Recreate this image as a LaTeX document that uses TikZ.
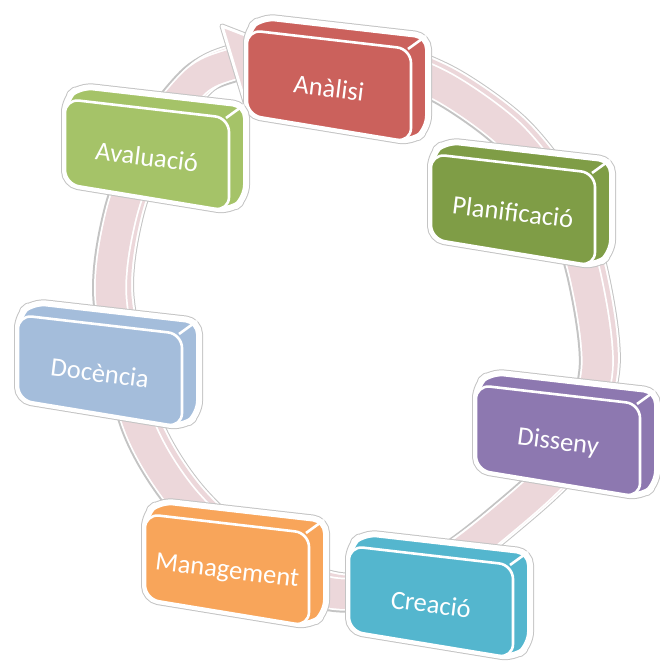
\documentclass[tikz,border=0pt]{standalone}
\usepackage{fontspec}
\setmainfont{Carlito}
\definecolor{cRed}{RGB}{203,97,92}
\definecolor{cOlive}{RGB}{127,157,70}
\definecolor{cLime}{RGB}{165,195,104}
\definecolor{cPurple}{RGB}{141,120,176}
\definecolor{cTeal}{RGB}{84,182,206}
\definecolor{cOrange}{RGB}{248,165,90}
\definecolor{cBlue}{RGB}{164,189,219}
\definecolor{cRing}{RGB}{236,215,218}
\definecolor{cGlow}{RGB}{196,196,196}
\tikzset{
  boxtext/.style={text=white, font=\fontsize{26.5}{30}\selectfont, rotate=-7, inner sep=0pt},
  glowline/.style={draw=cGlow, line width=8pt, rounded corners=13pt},
  whiteline/.style={draw=white, line width=6pt, rounded corners=13pt},
  edgeline/.style={draw=white, line width=2.6pt, rounded corners=14pt},
  ringA/.style={draw=cGlow, line width=37pt},
  ringB/.style={draw=white, line width=35pt},
  ringC/.style={draw=cRing, line width=31pt},
  ringD/.style={draw=white, line width=33pt},
  ringE/.style={draw=cRing, line width=29.5pt},
}
\newcommand\cubebox[5]{%
\begin{scope}[shift={(#2,#3)}]
  \path[glowline] (-82,-54) -- (-67,-67) -- (99,-48) -- (99,45) -- (83,58) -- (-82,31) -- cycle;
  \path[whiteline, fill=#4] (-82,-54) -- (-67,-67) -- (99,-48) -- (99,45) -- (83,58) -- (-82,31) -- cycle;
  \path[edgeline, fill=#4] (-82,-54) -- (82,-35) -- (82,58) -- (-82,31) -- cycle;
  \path[draw=white, line width=2.6pt] (79,-35) -- (97,-48);
  \node[boxtext] (#1) at (0,4) {#5};
\end{scope}}
\begin{document}
\begin{tikzpicture}[x=1pt,y=-1pt, line join=round]
\useasboundingbox (0,0) rectangle (660,662);
% ring: back (shifted) and front layers
\begin{scope}[shift={(5,-3)}]
\draw[ringA] plot[smooth cycle] coordinates {(300,50) (380,62) (445,88) (510,135) (558,198) (585,275) (597,370) (569,455) (504,519) (430,572) (340,594) (255,563) (184,500) (138,423) (111,300) (121,215) (150,140) (195,82) (233,64)};
\end{scope}
\draw[ringA] plot[smooth cycle] coordinates {(300,50) (380,62) (445,88) (510,135) (558,198) (585,275) (597,370) (569,455) (504,519) (430,572) (340,594) (255,563) (184,500) (138,423) (111,300) (121,215) (150,140) (195,82) (233,64)};
\begin{scope}[shift={(5,-3)}]
\draw[ringB] plot[smooth cycle] coordinates {(300,50) (380,62) (445,88) (510,135) (558,198) (585,275) (597,370) (569,455) (504,519) (430,572) (340,594) (255,563) (184,500) (138,423) (111,300) (121,215) (150,140) (195,82) (233,64)};
\draw[ringC] plot[smooth cycle] coordinates {(300,50) (380,62) (445,88) (510,135) (558,198) (585,275) (597,370) (569,455) (504,519) (430,572) (340,594) (255,563) (184,500) (138,423) (111,300) (121,215) (150,140) (195,82) (233,64)};
\end{scope}
\draw[ringD] plot[smooth cycle] coordinates {(300,50) (380,62) (445,88) (510,135) (558,198) (585,275) (597,370) (569,455) (504,519) (430,572) (340,594) (255,563) (184,500) (138,423) (111,300) (121,215) (150,140) (195,82) (233,64)};
\draw[ringE] plot[smooth cycle] coordinates {(300,50) (380,62) (445,88) (510,135) (558,198) (585,275) (597,370) (569,455) (504,519) (430,572) (340,594) (255,563) (184,500) (138,423) (111,300) (121,215) (150,140) (195,82) (233,64)};
% arrow head
\coordinate (hA) at (222,26);
\coordinate (hB) at (245,102);
\coordinate (hT) at (284,50);
\path[draw=cGlow, line width=5pt] (hA) -- (hT) -- (hB) -- cycle;
\path[draw=white, line width=3pt, fill=cRing] (hA) -- (hT) -- (hB) -- cycle;
% boxes
\cubebox{anal}{329}{84}{cRed}{Anàlisi}
\cubebox{plan}{513}{208}{cOlive}{Planificació}
\cubebox{diss}{558}{439}{cPurple}{Disseny}
\cubebox{crea}{431}{600}{cTeal}{Creació}
\cubebox{mana}{227}{568}{cOrange}{Management}
\cubebox{doce}{100}{369}{cBlue}{Docència}
\cubebox{aval}{147}{153}{cLime}{Avaluació}
\end{tikzpicture}
\end{document}
